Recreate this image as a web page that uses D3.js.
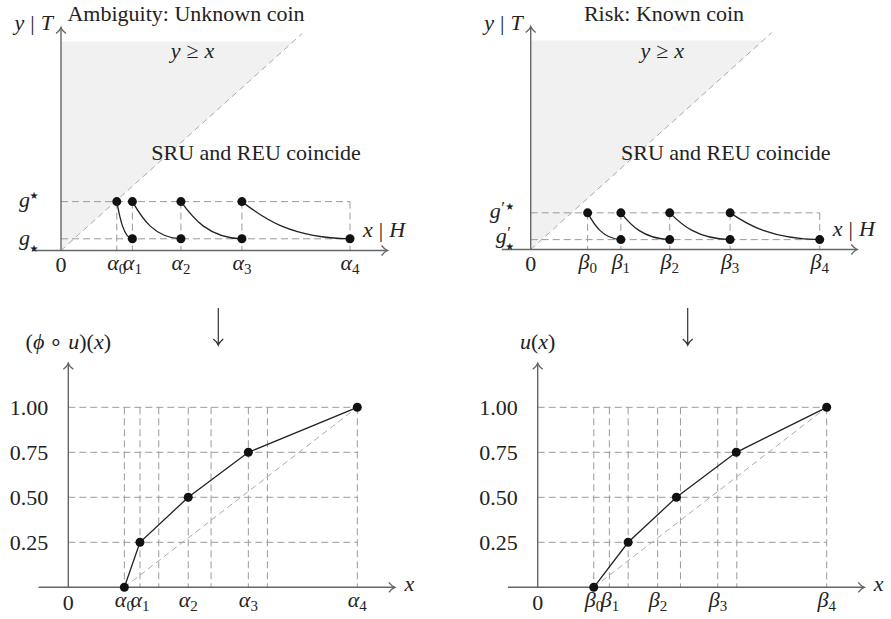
<!DOCTYPE html>
<html>
<head>
<meta charset="utf-8">
<script src="https://cdn.jsdelivr.net/npm/d3@7"></script>
<style>
  body { margin: 0; background: #fff; }
  svg { display: block; }
</style>
</head>
<body>
<svg id="chart" width="891" height="619"></svg>
<script>
// x positions are in units of the widest payoff (alpha4 / beta4 = 1)
const alphaX = [0.193, 0.247, 0.415, 0.626, 1.0]
const betaX = [0.197, 0.312, 0.481, 0.690, 1.0]
const ambLevels = [0.045, 0.188]   // g_star, g^star
const riskLevels = [0.038, 0.141]  // g'_star, g'^star

const utilTicks = [0.25, 0.5, 0.75, 1.0]
const utilLevels = [0, 0.25, 0.5, 0.75, 1.0]
const ambUtilX = [0.194, 0.248, 0.415, 0.623, 1.0]
const riskUtilX = [0.194, 0.313, 0.480, 0.687, 1.0]
const gridX = [0.194, 0.248, 0.313, 0.415, 0.494, 0.623, 0.689, 1.0]
const riskLabelX = [0.195, 0.250, 0.416, 0.624, 1.0]

const svg = d3.select('#chart')
const unit = 289
const axisCol = '#666'
const dashCol = '#9a9a9a'
const fs = 22
const FONT = '"Liberation Serif", "Times New Roman", serif'

function txt(g, x, y, s, opts = {}) {
  const t = g.append('text').attr('x', x).attr('y', y)
    .attr('text-anchor', opts.anchor || 'middle')
    .style('font-family', opts.font || FONT).style('font-size', (opts.size || fs) + 'px')
    .style('fill', '#222')
  if (opts.italic) t.style('font-style', 'italic')
  if (s != null) t.text(s)
  return t
}

function arrowHead(g, x, y, dir) {
  // small open tikz-style head
  const s = 5
  let d
  if (dir === 'up') d = `M${x - s},${y + s + 1}Q${x - 1},${y + 3} ${x},${y}Q${x + 1},${y + 3} ${x + s},${y + s + 1}`
  else if (dir === 'right') d = `M${x - s - 1},${y - s}Q${x - 3},${y - 1} ${x},${y}Q${x - 3},${y + 1} ${x - s - 1},${y + s}`
  else d = `M${x - s},${y - s - 1}Q${x - 1},${y - 3} ${x},${y}Q${x + 1},${y - 3} ${x + s},${y - s - 1}`
  g.append('path').attr('d', d).attr('fill', 'none').attr('stroke', dir === 'down' ? '#333' : axisCol).attr('stroke-width', 1.3)
}

// symbol with numeric subscript, whole label centred on x
function subLabel(g, x, y, base, sub) {
  const t = txt(g, x, y, null)
  t.append('tspan').style('font-style', 'italic').text(base)
  t.append('tspan').style('font-size', (fs * 0.68) + 'px').attr('dy', 4).text(sub)
  return t
}

// g with optional prime and a star above or below, right edge at x
function gLabel(g, x, by, prime, starUp) {
  const grp = g.append('g')
  const base = txt(grp, 0, by, 'g', { italic: true, anchor: 'start' })
  const w = base.node().getComputedTextLength()
  let sc = w + 4
  if (prime) {
    txt(grp, w + 0.5, by - 5, '′', { anchor: 'start', size: 17 })
    sc = starUp ? w + 9 : w + 3
  }
  txt(grp, sc, starUp ? by - 5 : by + 10, '⋆',
    { anchor: 'middle', size: 20, font: '"DejaVu Sans", sans-serif' })
  grp.attr('transform', `translate(${x - (sc + 4)},0)`)
}

function mixedText(g, x, y, parts, anchor) {
  const t = txt(g, x, y, null, { anchor: anchor || 'start' })
  parts.forEach(p => {
    const s = t.append('tspan').text(p[0])
    if (p[1]) s.style('font-style', 'italic')
    if (p[2]) s.attr('dx', p[2])
  })
  return t
}

function drawTop(cfg) {
  const g = svg.append('g')
  const x = d3.scaleLinear().domain([0, 1]).range([cfg.ox, cfg.ox + unit])
  const y = d3.scaleLinear().domain([0, 1]).range([cfg.oy, cfg.oy - 260])
  const xs = cfg.xs
  const [lo, hi] = cfg.levels

  // shaded region y >= x
  const top = 0.804
  g.append('path')
    .attr('d', d3.line()([[x(0), y(0)], [x(0), y(top)], [x(top), y(top)]]))
    .attr('fill', '#f1f1f1')

  // diagonal
  g.append('line')
    .attr('x1', x(0)).attr('y1', y(0)).attr('x2', x(0.834)).attr('y2', y(0.834))
    .attr('stroke', '#aaa').attr('stroke-width', 1).attr('stroke-dasharray', '6,4')

  // dashed guides
  ;[lo, hi].forEach(v => {
    g.append('line').attr('x1', x(0)).attr('x2', x(xs[4])).attr('y1', y(v)).attr('y2', y(v))
      .attr('stroke', dashCol).attr('stroke-width', 1).attr('stroke-dasharray', '7,4')
  })
  xs.forEach(v => {
    g.append('line').attr('x1', x(v)).attr('x2', x(v)).attr('y1', y(hi)).attr('y2', y(0))
      .attr('stroke', dashCol).attr('stroke-width', 1).attr('stroke-dasharray', '7,4')
  })

  // axes
  g.append('line').attr('x1', x(-0.1)).attr('x2', x(1.13)).attr('y1', y(0)).attr('y2', y(0))
    .attr('stroke', axisCol).attr('stroke-width', 1.4)
  arrowHead(g, x(1.13), y(0), 'right')
  g.append('line').attr('x1', x(0)).attr('x2', x(0)).attr('y1', y(0)).attr('y2', y(0.858))
    .attr('stroke', axisCol).attr('stroke-width', 1.4)
  arrowHead(g, x(0), y(0.858), 'up')

  // curves from (x_i, hi) to (x_{i+1}, lo)
  for (let i = 0; i < 4; i++) {
    const x0 = x(xs[i]), y0 = y(hi), x1 = x(xs[i + 1]), y1 = y(lo)
    const p = d3.path()
    p.moveTo(x0, y0)
    p.bezierCurveTo(x0 + (x1 - x0) * 0.2, y0 + (y1 - y0) * 0.45,
      x0 + (x1 - x0) * 0.45, y1 - 1, x1, y1)
    g.append('path').attr('d', p.toString()).attr('fill', 'none')
      .attr('stroke', '#222').attr('stroke-width', 1.3)
  }
  g.selectAll('circle.hi').data(xs.slice(0, 4)).join('circle')
    .attr('cx', d => x(d)).attr('cy', y(hi)).attr('r', 4.5).attr('fill', '#111')
  g.selectAll('circle.lo').data(xs.slice(1)).join('circle')
    .attr('cx', d => x(d)).attr('cy', y(lo)).attr('r', 4.5).attr('fill', '#111')

  // labels
  txt(g, x(0), y(0) + 21, '0')
  xs.forEach((v, i) => subLabel(g, x(v), y(0) + 19, cfg.sym, String(i)))

  mixedText(g, x(0) - 8, 30, [['y', 1], ['|', 0, 6], ['T', 1, 6]], 'end')
  mixedText(g, x(1.045), y(0) - 14, [['x', 1], ['|', 0, 6], ['H', 1, 6]])
  txt(g, cfg.titleX, 21, cfg.title)
  mixedText(g, x(0.455), 58, [['y', 1], ['≥', 0, 6], ['x', 1, 6]], 'middle')
  txt(g, x(0.675), 160, 'SRU and REU coincide')

  cfg.levelLabels(g, x, y)
}

function drawBottom(cfg) {
  const g = svg.append('g')
  const x = d3.scaleLinear().domain([0, 1]).range([cfg.ox, cfg.ox + unit])
  const y = d3.scaleLinear().domain([0, 1]).range([cfg.oy, cfg.oy - 180])

  utilTicks.forEach(v => {
    g.append('line').attr('x1', x(0)).attr('x2', x(1)).attr('y1', y(v)).attr('y2', y(v))
      .attr('stroke', dashCol).attr('stroke-width', 1).attr('stroke-dasharray', '7,4')
  })
  gridX.forEach(v => {
    g.append('line').attr('x1', x(v)).attr('x2', x(v)).attr('y1', y(1)).attr('y2', y(0))
      .attr('stroke', dashCol).attr('stroke-width', 1).attr('stroke-dasharray', '7,4')
  })
  // diagonal reference
  g.append('line').attr('x1', x(cfg.xs[0])).attr('y1', y(0)).attr('x2', x(1)).attr('y2', y(1))
    .attr('stroke', '#aaa').attr('stroke-width', 1).attr('stroke-dasharray', '6,4')

  // axes
  g.append('line').attr('x1', x(-0.103)).attr('x2', x(1.13)).attr('y1', y(0)).attr('y2', y(0))
    .attr('stroke', axisCol).attr('stroke-width', 1.4)
  arrowHead(g, x(1.13), y(0), 'right')
  g.append('line').attr('x1', x(0)).attr('x2', x(0)).attr('y1', y(0)).attr('y2', y(1.245))
    .attr('stroke', axisCol).attr('stroke-width', 1.4)
  arrowHead(g, x(0), y(1.245), 'up')

  const yAxis = d3.axisLeft(y).tickValues(utilTicks).tickFormat(d3.format('.2f'))
    .tickSize(0).tickPadding(20)
  const ya = g.append('g').attr('transform', `translate(${x(0)},0)`).call(yAxis)
  ya.select('.domain').remove()
  ya.selectAll('text').style('font-size', fs + 'px').style('font-family', FONT)
    .style('fill', '#222').attr('dy', '0.34em')

  const pts = cfg.xs.map((v, i) => [v, utilLevels[i]])
  g.append('path').datum(pts)
    .attr('d', d3.line().x(d => x(d[0])).y(d => y(d[1])))
    .attr('fill', 'none').attr('stroke', '#222').attr('stroke-width', 1.3)
  g.selectAll('circle').data(pts).join('circle')
    .attr('cx', d => x(d[0])).attr('cy', d => y(d[1])).attr('r', 4.5).attr('fill', '#111')

  txt(g, x(0), y(0) + 23, '0')
  cfg.labelX.forEach((v, i) => subLabel(g, x(v), y(0) + 20, cfg.sym, String(i)))
  txt(g, x(1.18), y(0) + 4, 'x', { italic: true })

  cfg.yLabel(g, x, y)

  // mapping arrow from the panel above
  const ax = x(0.519)
  g.append('line').attr('x1', ax).attr('x2', ax).attr('y1', 308).attr('y2', 345)
    .attr('stroke', '#333').attr('stroke-width', 1.2)
  arrowHead(g, ax, 345, 'down')
}

drawTop({
  ox: 61, oy: 250.5, xs: alphaX, levels: ambLevels, sym: 'α',
  title: 'Ambiguity: Unknown coin', titleX: 186,
  levelLabels: (g, x, y) => {
    gLabel(g, x(0) - 23, y(ambLevels[1]) + 5, false, true)
    gLabel(g, x(0) - 23, y(ambLevels[0]) + 6, false, false)
  }
})
drawTop({
  ox: 530.7, oy: 249.5, xs: betaX, levels: riskLevels, sym: 'β',
  title: 'Risk: Known coin', titleX: 664,
  levelLabels: (g, x, y) => {
    gLabel(g, x(0) - 17, y(riskLevels[1]) + 5, true, true)
    gLabel(g, x(0) - 17, y(riskLevels[0]) + 3, true, false)
  }
})
drawBottom({
  ox: 68.3, oy: 587.3, xs: ambUtilX, labelX: ambUtilX, sym: 'α',
  yLabel: (g, x, y) => mixedText(g, x(0), 349, [['(', 0], ['ϕ', 1], ['∘', 0, 5], ['u', 1, 5], [')(', 0], ['x', 1], [')', 0]], 'middle')
})
drawBottom({
  ox: 537.7, oy: 587.3, xs: riskUtilX, labelX: riskLabelX, sym: 'β',
  yLabel: (g, x, y) => mixedText(g, x(0), 349, [['u', 1], ['(', 0], ['x', 1], [')', 0]], 'middle')
})
</script>
</body>
</html>
